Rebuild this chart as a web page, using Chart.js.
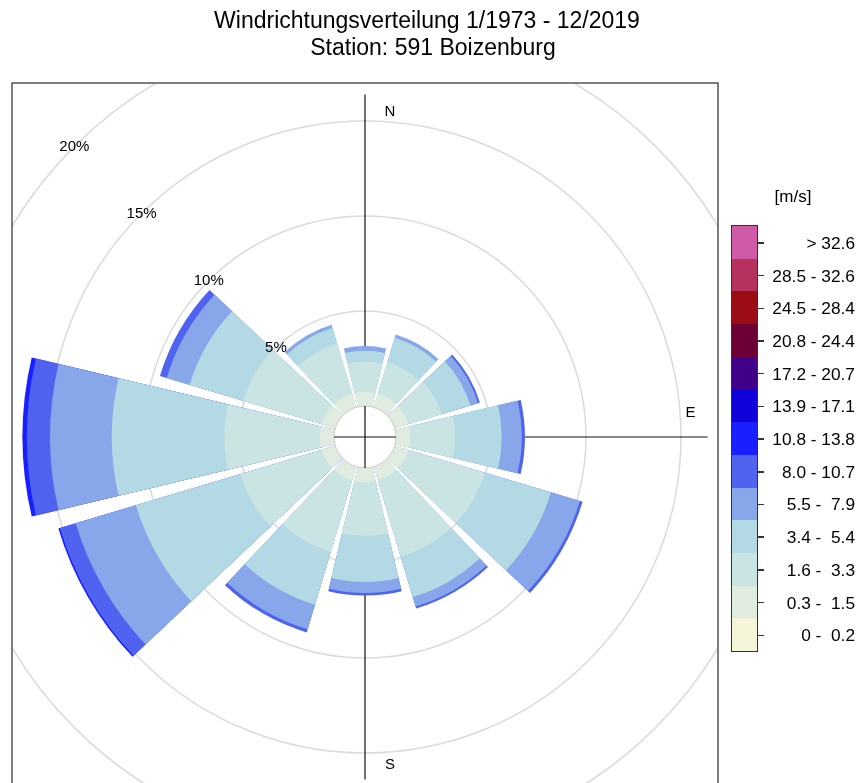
<!DOCTYPE html>
<html>
<head>
<meta charset="utf-8">
<script src="https://cdn.jsdelivr.net/npm/chart.js@4.4.0/dist/chart.umd.min.js"></script>
<style>
    html, body { margin: 0; padding: 0; background: #fff; overflow: hidden; width: 863px; height: 783px; }
    body { position: relative; font-family: "Liberation Sans", Arial, sans-serif; color: #000; }
    #roseWrap { position: absolute; left: -46px; top: 26px; width: 822px; height: 822px; }
    .title { position: absolute; font-size: 23px; line-height: 23px; white-space: nowrap; transform: translateX(-50%); }
    #unit { position: absolute; left: 793px; top: 187px; font-size: 17px; line-height: 20px; transform: translateX(-50%); }
    #bar { position: absolute; left: 731px; top: 225px; width: 25px; border: 1.5px solid #333; }
    #bar div { height: 32.7px; }
    .tick { position: absolute; left: 758px; width: 6px; height: 1.5px; background: #333; }
    .lab { position: absolute; right: 8px; font-size: 17.3px; line-height: 20px; white-space: pre; text-align: right; }
</style>
</head>
<body>
<div id="roseWrap"><canvas id="rose" width="822" height="822"></canvas></div>
<div class="title" style="left:427px; top:9px;">Windrichtungsverteilung 1/1973 - 12/2019</div>
<div class="title" style="left:433px; top:36px;">Station: 591 Boizenburg</div>
<div id="unit">[m/s]</div>
<div id="bar"></div>
<div id="legend"></div>

<script>
    // sector centres (degrees from north) and frequencies in % per speed class
    var directions = [0, 30, 60, 90, 120, 150, 180, 210, 240, 270, 300, 330];

    var speedBins = ["0 -  0.2", "0.3 -  1.5", "1.6 -  3.3", "3.4 -  5.4", "5.5 -  7.9", "8.0 - 10.7",
        "10.8 - 13.8", "13.9 - 17.1", "17.2 - 20.7", "20.8 - 24.4", "24.5 - 28.4", "28.5 - 32.6", "> 32.6"];

    var binColors = ['#f5f5da', '#e0ecdf', '#c9e4e3', '#b3dae4', '#87a7ea', '#4f63f0',
        '#1a1fff', '#1000da', '#400089', '#6c0034', '#9b0c15', '#b5325e', '#cf5aa5'];

    var freq_00_02 = [0, 0, 0, 0, 0, 0, 0, 0, 0, 0, 0, 0];
    var freq_03_15 = [0.75, 0.75, 0.75, 0.75, 0.75, 0.75, 0.75, 0.75, 0.75, 0.75, 0.75, 0.75];
    var freq_16_33 = [1.58, 1.72, 1.83, 2.36, 4.20, 4.20, 2.83, 3.93, 4.46, 5.02, 4.30, 2.75];
    var freq_34_54 = [0.58, 1.35, 1.58, 2.45, 3.63, 2.21, 2.42, 2.90, 5.74, 5.93, 2.95, 0.85];
    var freq_55_79 = [0.25, 0.18, 0.42, 1.06, 1.59, 0.52, 0.58, 1.35, 3.31, 3.25, 1.26, 0.18];
    var freq_80_107 = [0, 0, 0.10, 0.17, 0.15, 0.11, 0.13, 0.17, 0.87, 1.22, 0.37, 0];
    var freq_108_138 = [0, 0, 0, 0, 0, 0, 0, 0, 0.08, 0.23, 0, 0];
    var freq_139_171 = [0, 0, 0, 0, 0, 0, 0, 0, 0, 0, 0, 0];
    var freq_172_207 = [0, 0, 0, 0, 0, 0, 0, 0, 0, 0, 0, 0];
    var freq_208_244 = [0, 0, 0, 0, 0, 0, 0, 0, 0, 0, 0, 0];
    var freq_245_284 = [0, 0, 0, 0, 0, 0, 0, 0, 0, 0, 0, 0];
    var freq_285_326 = [0, 0, 0, 0, 0, 0, 0, 0, 0, 0, 0, 0];
    var freq_gt_326 = [0, 0, 0, 0, 0, 0, 0, 0, 0, 0, 0, 0];

    var ringValues = [0, 5, 10, 15, 20];
    var ringLabels = ["", "5%", "10%", "15%", "20%"];

    var binSeries = [freq_00_02, freq_03_15, freq_16_33, freq_34_54, freq_55_79, freq_80_107, freq_108_138,
        freq_139_171, freq_172_207, freq_208_244, freq_245_284, freq_285_326, freq_gt_326];

    var sectorWidth = 26.8;   // degrees
    var gapWidth = 30 - sectorWidth;
    var rMin = -1.63;         // leaves room for the calm circle in the middle

    /*
    ----------------------------------
         stacked layers
    ----------------------------------
    */

    var sectorLabels = [];
    directions.forEach(d => { sectorLabels.push(d + '°'); sectorLabels.push(''); });

    var dataSet = [];
    var running = directions.map(() => 0);

    binSeries.forEach((series, k) => {
        var values = [];
        directions.forEach((d, i) => {
            running[i] += series[i];
            values.push(series[i] > 0 ? running[i] : rMin);
            values.push(rMin);   // gap between sectors
        });
        dataSet.push({
            label: speedBins[k],
            data: values,
            backgroundColor: binColors[k],
            borderWidth: 0,
            angle: ctx => (ctx.dataIndex % 2 ? gapWidth : sectorWidth)
        });
    });

    var maxTotal = Math.max.apply(null, running);

    /*
    ----------------------------------
         frame, axes, calm circle
    ----------------------------------
    */

    // plot frame in canvas coordinates
    var frame = { left: 58, top: 57, right: 764, bottom: 790 };

    var roseDecor = {
        id: 'roseDecor',
        beforeDraw(chart) {
            var ctx = chart.ctx;
            ctx.save();
            ctx.beginPath();
            ctx.rect(frame.left, frame.top, frame.right - frame.left, frame.bottom - frame.top);
            ctx.clip();
        },
        beforeDatasetsDraw(chart) {
            var ctx = chart.ctx;
            var s = chart.scales.r;
            var cx = s.xCenter, cy = s.yCenter;
            var len = s.getDistanceFromCenterForValue(maxTotal);
            ctx.save();
            ctx.strokeStyle = '#111';
            ctx.lineWidth = 1.2;
            ctx.beginPath();
            ctx.moveTo(cx, cy - len); ctx.lineTo(cx, cy + len);
            ctx.moveTo(cx - len, cy); ctx.lineTo(cx + len, cy);
            ctx.stroke();
            ctx.fillStyle = '#000';
            ctx.font = '15px "Liberation Sans", Arial, sans-serif';
            ctx.textAlign = 'center';
            ctx.textBaseline = 'middle';
            var d = len - 17;
            ctx.fillText('N', cx + 25, cy - d);
            ctx.fillText('S', cx + 25, cy + d + 2);
            ctx.fillText('E', cx + d, cy - 24);
            ctx.fillText('W', cx - d, cy - 24);
            ctx.restore();
        },
        afterDatasetsDraw(chart) {
            var ctx = chart.ctx;
            var s = chart.scales.r;
            var cx = s.xCenter, cy = s.yCenter;
            var hole = s.getDistanceFromCenterForValue(0);
            ctx.save();
            ctx.beginPath();
            ctx.arc(cx, cy, hole, 0, Math.PI * 2);
            ctx.fillStyle = '#fff';
            ctx.fill();
            ctx.strokeStyle = '#d8d2d2';
            ctx.lineWidth = 1.2;
            ctx.stroke();
            ctx.strokeStyle = '#111';
            ctx.lineWidth = 1.2;
            ctx.beginPath();
            ctx.moveTo(cx, cy - hole); ctx.lineTo(cx, cy + hole);
            ctx.moveTo(cx - hole, cy); ctx.lineTo(cx + hole, cy);
            ctx.stroke();

            ctx.fillStyle = '#000';
            ctx.font = '15px "Liberation Sans", Arial, sans-serif';
            ctx.textAlign = 'center';
            ctx.textBaseline = 'middle';
            ringValues.forEach((v, i) => {
                if (!ringLabels[i]) return;
                var r = s.getDistanceFromCenterForValue(v);
                ctx.fillText(ringLabels[i], cx - r * Math.SQRT1_2, cy - r * Math.SQRT1_2);
            });
            ctx.restore();
        },
        afterDraw(chart) {
            var ctx = chart.ctx;
            ctx.restore();
            ctx.save();
            ctx.strokeStyle = '#555';
            ctx.lineWidth = 1.5;
            ctx.beginPath();
            ctx.moveTo(frame.left, frame.bottom);
            ctx.lineTo(frame.left, frame.top);
            ctx.lineTo(frame.right, frame.top);
            ctx.lineTo(frame.right, frame.bottom);
            ctx.stroke();
            ctx.restore();
        }
    };

    new Chart(document.getElementById('rose'), {
        type: 'polarArea',
        data: {
            labels: sectorLabels,
            datasets: dataSet
        },
        options: {
            responsive: false,
            animation: false,
            events: [],
            layout: { padding: 0 },
            plugins: {
                legend: { display: false },
                tooltip: { enabled: false }
            },
            scales: {
                r: {
                    min: rMin,
                    max: 20,
                    startAngle: -sectorWidth / 2,
                    afterBuildTicks: scale => {
                        scale.ticks = ringValues.map(v => ({ value: v }));
                    },
                    ticks: { display: false },
                    grid: { color: '#dadada', lineWidth: 1.5 },
                    angleLines: { display: false },
                    pointLabels: { display: false }
                }
            }
        },
        plugins: [roseDecor]
    });

    /*
    ----------------------------------
         colour key
    ----------------------------------
    */

    var bar = document.getElementById('bar');
    var legend = document.getElementById('legend');
    var cell = 32.7;
    for (var j = speedBins.length - 1; j >= 0; j--) {
        var row = speedBins.length - 1 - j;
        var c = document.createElement('div');
        c.style.background = binColors[j];
        bar.appendChild(c);

        var yMid = 226.5 + row * cell + cell / 2;
        var t = document.createElement('div');
        t.className = 'tick';
        t.style.top = (yMid - 0.75) + 'px';
        legend.appendChild(t);

        var l = document.createElement('div');
        l.className = 'lab';
        l.style.top = (yMid - 10) + 'px';
        l.textContent = speedBins[j];
        legend.appendChild(l);
    }
</script>
</body>
</html>
